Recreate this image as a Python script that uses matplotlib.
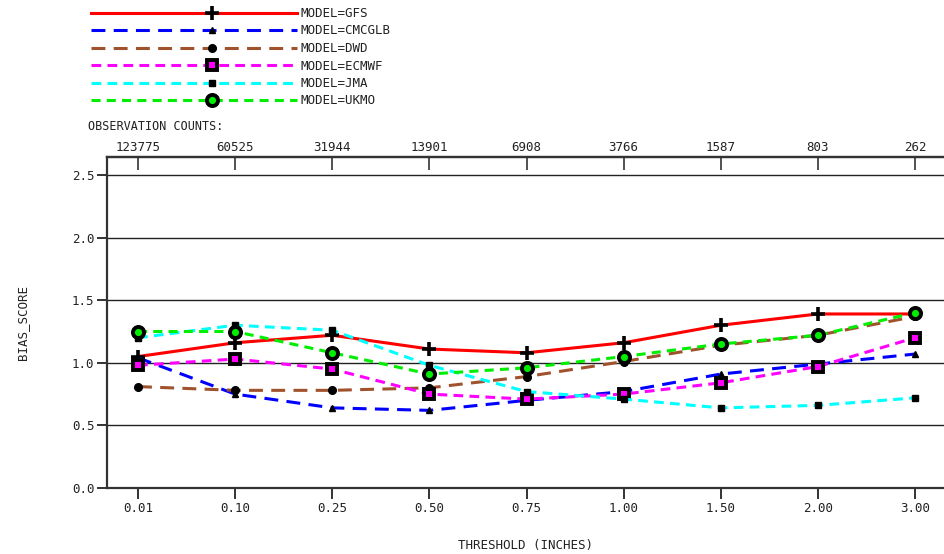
import matplotlib
matplotlib.use("Agg")
import matplotlib.pyplot as plt
from matplotlib.legend_handler import HandlerLine2D
import numpy as np

thresholds = ["0.01", "0.10", "0.25", "0.50", "0.75", "1.00", "1.50", "2.00", "3.00"]
obs_counts = ["123775", "60525", "31944", "13901", "6908", "3766", "1587", "803", "262"]

gfs = [1.05, 1.16, 1.22, 1.11, 1.08, 1.16, 1.30, 1.39, 1.39]
cmcglb = [1.04, 0.75, 0.64, 0.62, 0.70, 0.77, 0.91, 0.99, 1.07]
dwd = [0.81, 0.78, 0.78, 0.80, 0.89, 1.01, 1.14, 1.22, 1.37]
ecmwf = [0.98, 1.03, 0.95, 0.75, 0.71, 0.75, 0.84, 0.97, 1.20]
jma = [1.20, 1.30, 1.26, 0.98, 0.77, 0.71, 0.64, 0.66, 0.72]
ukmo = [1.25, 1.25, 1.08, 0.91, 0.96, 1.05, 1.15, 1.22, 1.40]

model_names = ["GFS", "CMCGLB", "DWD", "ECMWF", "JMA", "UKMO"]
series = [gfs, cmcglb, dwd, ecmwf, jma, ukmo]

plt.rcParams["font.family"] = ["DejaVu Sans Mono"]
plt.rcParams["lines.scale_dashes"] = False

styles = [
    dict(color="#ff0000", ls="-", marker="+", ms=10, mew=2.6, mfc="black"),
    dict(color="#0000ff", dashes=(10, 6), marker="^", ms=5, mew=1, mfc="black"),
    dict(color="#a0522d", dashes=(10, 6), marker="o", ms=5.5, mew=1, mfc="black"),
    dict(color="#ff00ff", dashes=(7, 4.5), marker="s", ms=7.5, mew=2.8, mfc="#ff00ff"),
    dict(color="#00ffff", dashes=(7, 4.5), marker="s", ms=5, mew=1, mfc="black"),
    dict(color="#00ee00", dashes=(6.5, 4.5), marker="o", ms=8, mew=2.8, mfc="#00ee00"),
]


class OffsetMarkerHandler(HandlerLine2D):
    """Legend line with its single marker placed right of centre."""

    def create_artists(self, legend, orig_handle, xdescent, ydescent,
                       width, height, fontsize, trans):
        artists = super().create_artists(legend, orig_handle, xdescent, ydescent,
                                         width, height, fontsize, trans)
        line = artists[0]
        xd = np.asarray(line.get_xdata(), dtype=float)
        line.set_xdata([xd[0], xd[0] + (xd[-1] - xd[0]) * 0.585, xd[-1]])
        return artists


W, H = 944, 554
fig = plt.figure(figsize=(W / 100, H / 100), dpi=100)

ax_l, ax_r, ax_b, ax_t = 107, 944, 488, 157
ax = fig.add_axes([ax_l / W, 1 - ax_b / H, (ax_r - ax_l) / W, (ax_b - ax_t) / H])

x = np.arange(len(thresholds))
px_per_unit = (915 - 138) / 8.0
ax.set_xlim(-(138 - ax_l) / px_per_unit, (ax_r - 138) / px_per_unit)
ax.set_ylim(0, (ax_b - ax_t) / ((488 - 175) / 2.5))

for yv in [0.5, 1.0, 1.5, 2.0, 2.5]:
    ax.axhline(yv, color="#222222", lw=1.0, zorder=1)

handles = []
for name, vals, st in zip(model_names, series, styles):
    st = dict(st)
    dashes = st.pop("dashes", None)
    ln, = ax.plot(x, vals, lw=2.2, mec="black", label=f"MODEL={name}", zorder=3, **st)
    if dashes is not None:
        ln.set_dashes(dashes)
    handles.append(ln)

txt_color = "#222222"
ax.set_xticks(x)
ax.set_xticklabels(thresholds, fontsize=9, color=txt_color)
ax.set_yticks([0.0, 0.5, 1.0, 1.5, 2.0, 2.5])
ax.set_yticklabels(["0.0", "0.5", "1.0", "1.5", "2.0", "2.5"], fontsize=9, color=txt_color)
ax.tick_params(axis="x", direction="out", length=8, width=1.4, pad=2, color="#333333")
ax.tick_params(axis="y", direction="out", length=7, width=1.4, pad=2, color="#333333")
ax.spines["right"].set_visible(False)
for s in ["left", "bottom", "top"]:
    ax.spines[s].set_linewidth(1.6)
    ax.spines[s].set_color("#333333")

# axis titles placed in figure coordinates
fig.text(525 / W, 1 - 545 / H, "THRESHOLD (INCHES)", fontsize=9, color=txt_color,
         ha="center", va="center")
fig.text(23 / W, 1 - 323 / H, "BIAS_SCORE", fontsize=9, color=txt_color,
         ha="center", va="center", rotation=90)

top = ax.secondary_xaxis("top")
top.set_xticks(x)
top.set_xticklabels(obs_counts, fontsize=9, color=txt_color)
top.tick_params(axis="x", direction="in", length=9, width=1.2, pad=2, color="#333333")
top.spines["top"].set_linewidth(1.6)
top.spines["top"].set_color("#333333")

fig.text(88 / W, 1 - 127 / H, "OBSERVATION COUNTS:", fontsize=8.5, color=txt_color,
         ha="left", va="center")

leg = fig.legend(handles=handles, loc="upper left", bbox_to_anchor=(91 / W, 1 - 7 / H),
                 bbox_transform=fig.transFigure, frameon=False, borderpad=0,
                 borderaxespad=0, handlelength=16.5, handletextpad=0.25,
                 labelspacing=0.36, numpoints=1, fontsize=9,
                 handler_map={ln: OffsetMarkerHandler() for ln in handles})
for t in leg.get_texts():
    t.set_color(txt_color)

fig.savefig("out.png", dpi=100)
